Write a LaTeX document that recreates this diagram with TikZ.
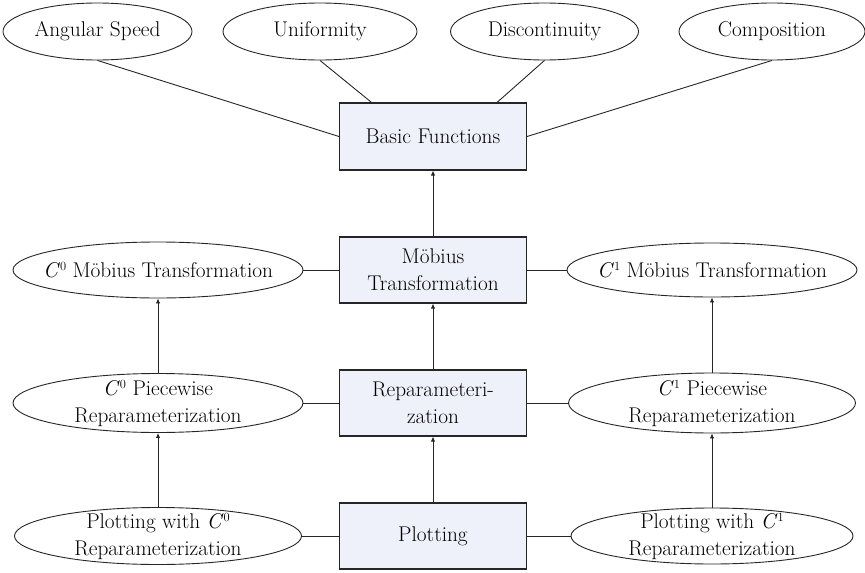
\documentclass[tikz,border=0pt]{standalone}
\usepackage{fontspec}
\usetikzlibrary{shapes.geometric,arrows.meta}

% C^0 and C^1 as printed in the labels
\newcommand{\Czero}{\textit{C}\raisebox{0.75ex}{\fontsize{12.5}{12.5}\selectfont 0}}
\newcommand{\Cone}{\textit{C}\raisebox{0.75ex}{\fontsize{12.5}{12.5}\selectfont 1}}

\begin{document}
\begin{tikzpicture}[x=1pt, y=-1pt]
    % Define colours
    \definecolor{borderColour}{HTML}{262626}
    \definecolor{fillColour}{HTML}{EEF0FA}

    % Define styles
    \tikzset{
        label font/.style={font=\fontsize{21.3}{27}\selectfont, align=center},
        block/.style={label font, rectangle, draw=borderColour, fill=fillColour,
            line width=1.1pt, minimum width=187pt, minimum height=66pt, inner sep=0pt},
        oval/.style={label font, ellipse, draw=borderColour, line width=0.9pt,
            inner xsep=-30pt, inner ysep=-10pt},
        link/.style={draw=borderColour, line width=0.9pt},
        flow/.style={link, -{Latex[length=5pt,width=4.5pt]}}
    }

    \useasboundingbox (0,0) rectangle (865,573);

    % Main column
    \node[block, minimum height=67pt] (basic) at (433,136.5) {Basic Functions};
    \node[block] (mobius) at (433,270) {Möbius\\Transformation};
    \node[block] (reparam) at (433,403) {Reparameteri-\\zation};
    \node[block] (plot) at (433,536) {Plotting};

    % Properties of the basic functions
    \node[oval, minimum width=189pt, minimum height=57pt] (speed) at (97.5,31.5) {Angular Speed};
    \node[oval, minimum width=194pt, minimum height=57pt] (uniform) at (320,31.5) {Uniformity};
    \node[oval, minimum width=188pt, minimum height=57pt] (discont) at (544.5,31.5) {Discontinuity};
    \node[oval, minimum width=186pt, minimum height=57pt] (compose) at (772,31.5) {Composition};

    % Left column (C^0)
    \node[oval, minimum width=290pt, minimum height=56pt] (mobzero) at (158,270) {\Czero\ Möbius Transformation};
    \node[oval, minimum width=290pt, minimum height=59pt] (piecezero) at (158,403) {\Czero\ Piecewise\\Reparameterization};
    \node[oval, minimum width=287pt, minimum height=57pt] (plotzero) at (158,536) {Plotting with \Czero\\Reparameterization};

    % Right column (C^1)
    \node[oval, minimum width=290pt, minimum height=54pt] (mobone) at (712,270) {\Cone\ Möbius Transformation};
    \node[oval, minimum width=287pt, minimum height=60pt] (pieceone) at (712,403) {\Cone\ Piecewise\\Reparameterization};
    \node[oval, minimum width=282pt, minimum height=56pt] (plotone) at (712,536) {Plotting with \Cone\\Reparameterization};

    % Lines from the properties to the box
    \draw[link] (speed.south) -- (basic.west);
    \draw[link] (uniform.south) -- (basic.151);
    \draw[link] (discont.south) -- (basic.28);
    \draw[link] (compose.south) -- (basic.east);

    % Horizontal links
    \draw[link] (mobzero.east) -- (mobius.west);
    \draw[link] (mobius.east) -- (mobone.west);
    \draw[link] (piecezero.east) -- (reparam.west);
    \draw[link] (reparam.east) -- (pieceone.west);
    \draw[link] (plotzero.east) -- (plot.west);
    \draw[link] (plot.east) -- (plotone.west);

    % Arrows going up
    \draw[flow] (mobius) -- (basic);
    \draw[flow] (reparam) -- (mobius);
    \draw[flow] (plot) -- (reparam);
    \draw[flow] (piecezero) -- (mobzero);
    \draw[flow] (plotzero) -- (piecezero);
    \draw[flow] (pieceone) -- (mobone);
    \draw[flow] (plotone) -- (pieceone);
\end{tikzpicture}
\end{document}
